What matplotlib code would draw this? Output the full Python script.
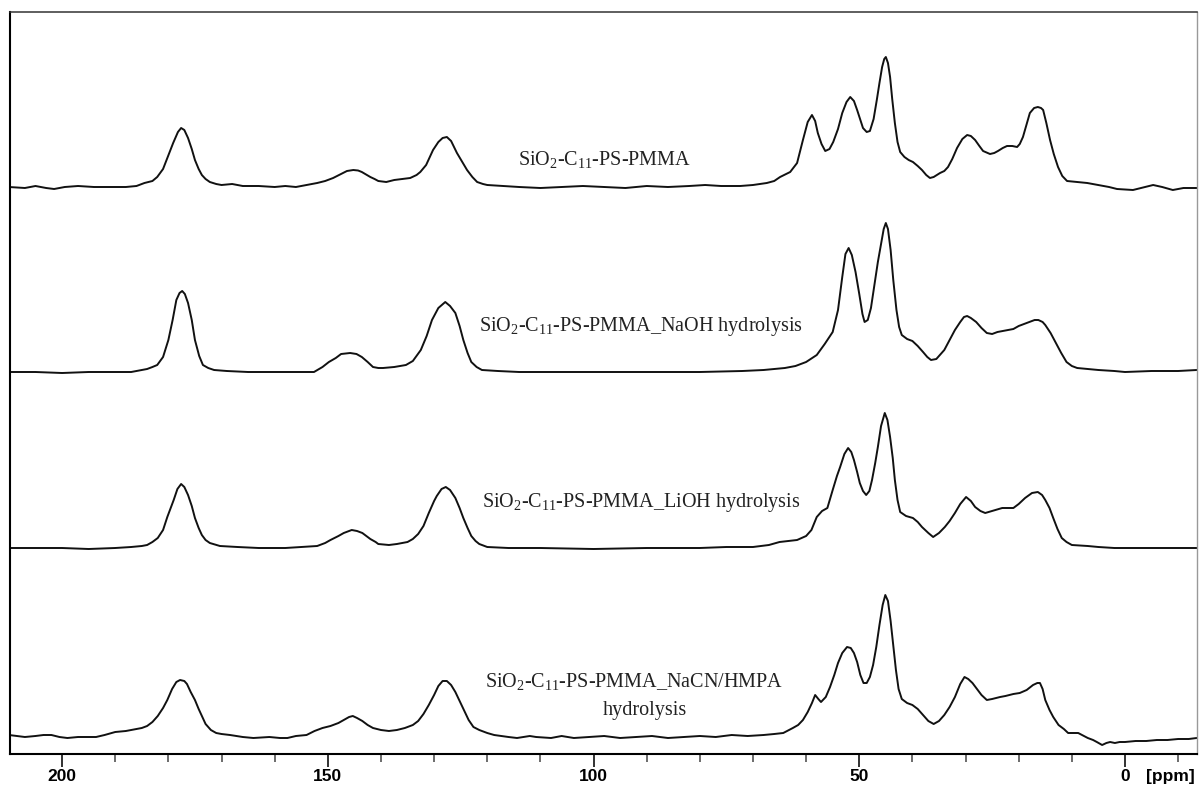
import matplotlib
matplotlib.use("Agg")
import matplotlib.pyplot as plt
from matplotlib.ticker import MultipleLocator

# ---------------- data (ppm, intensity above own baseline) ----------------
ppm_1 = [210, 207, 205, 203, 201.5, 199.5, 197, 194, 191, 188, 186, 184.5, 183, 182.1, 181, 180.2, 179.1, 178.2,
         177.6, 177, 176.3, 175.6, 175, 174.3, 173.7, 173, 172.2, 171, 170, 168, 166, 163, 160, 158, 156, 154, 152,
         150.5, 149, 147.5, 146.4, 145.2, 144.3, 143.6, 142.8, 142, 141.2, 140.5, 139, 137.5, 136, 134.5, 133.3,
         132.6, 131.5, 130.2, 129.2, 128.4, 127.6, 126.8, 125.7, 124.7, 123.8, 122.8, 121.9, 120.8, 120, 117, 114,
         110, 106, 102, 98, 94, 90, 86, 82, 79, 76, 72.4, 70, 67.4, 66, 64.9, 63, 61.7, 60.6, 59.7, 58.9, 58.3, 57.8,
         57.1, 56.4, 55.6, 54.9, 54, 53.2, 52.4, 51.7, 51, 50.4, 49.8, 49.3, 48.6, 48, 47.3, 46.7, 46.2, 45.7, 45.3,
         45, 44.6, 44.2, 43.8, 43.3, 42.8, 42.3, 41.5, 40.7, 39.9, 39, 38.2, 37.4, 36.7, 36, 34.8, 34, 33.3, 32.5,
         31.6, 30.6, 29.7, 29, 28.2, 27.4, 26.7, 25.4, 24.6, 23.9, 23, 22.2, 21.2, 20.3, 19.8, 19.2, 18.5, 17.9, 17.1,
         16.4, 15.8, 15.4, 14.8, 14.1, 13.4, 12.6, 11.8, 10.9, 9, 7.1, 5, 3, 1.5, -1.5, -3, -5.3, -7, -9, -11, -13.5]
int_1 = [0, -1, 1, -1, -2, 0, 1, 0, 0, 0, 1, 4, 6, 10, 18, 29, 44, 55,
         59, 57, 49, 38, 27, 18, 12, 8, 5, 3, 2, 3, 1, 1, 0, 1, 0, 2, 4,
         6, 9, 13, 16, 17, 16.5, 15, 12.5, 10, 8, 6, 5, 7, 8, 9, 12,
         15, 22, 37, 45, 49, 50, 46, 34, 25, 17, 10, 5, 3, 2, 1, 0,
         -1, 0, 1, 0, -1, 1, 0, 1, 2, 1, 1, 2, 4, 6, 10, 15, 24, 47, 65, 72, 66, 54,
         43, 36, 38, 45, 58, 74, 85, 90, 86, 77, 67, 59, 55, 56, 68, 87, 104, 120, 128,
         130, 124, 110, 88, 64, 45, 35, 30, 27, 25, 21, 17, 12, 9, 10, 14, 16, 20, 28,
         39, 48, 52, 51, 47, 41, 36, 33, 34, 36, 39, 41, 41, 40, 43, 50, 63, 74, 79,
         80, 79, 77, 64, 47, 33, 20, 11, 6, 5, 4, 2, 0, -2, -3, -1, 2, 0, -3, -1, -1]

ppm_2 = [210, 205, 200, 195, 190, 187, 186, 184, 183, 182.1, 181, 180, 179.2, 178.5, 177.9, 177.4, 176.9, 176.3,
         175.6, 175, 174.2, 173.5, 172.5, 171.4, 169, 165, 160, 156, 152.6, 151, 149.8, 148.5, 147.5, 145.8, 144.6,
         143.6, 142.5, 141.5, 140.5, 139.6, 137.5, 135.3, 134, 132.5, 131.4, 130.4, 129.2, 127.9, 127, 126, 125.2,
         124.5, 123.7, 123, 122, 121, 118, 114, 110, 100, 90, 80, 72, 68, 66, 64, 62, 60, 58, 56.5, 55, 54, 53.2,
         52.6, 52, 51.4, 50.7, 50, 49.4, 49, 48.4, 47.8, 47.2, 46.5, 46, 45.4, 45, 44.6, 44.1, 43.6, 43, 42.5, 42,
         41, 40, 39, 38, 37.2, 36.5, 35.5, 35, 34, 33, 32, 31, 30.3, 29.7, 29, 28, 27, 26, 25, 24, 23, 22, 21, 20,
         19, 18, 17, 16.3, 15.5, 15, 14, 13, 12, 11, 10, 9, 7, 5, 2, 0, -5, -10, -13.5]
int_2 = [0, 0, -1, 0, 0, 0, 1, 3, 5, 7, 15, 32, 52, 72, 79, 81, 78, 69,
         52, 32, 16, 7, 4, 2, 1, 0, 0, 0, 0, 5, 10, 14, 18, 19, 18,
         15, 10, 5, 4, 4, 5, 7, 11, 22, 36, 52, 64, 70, 66, 59, 46,
         32, 19, 10, 5, 2, 1, 0, 0, 0, 0, 0, 1, 2, 3, 4, 6, 10, 17, 28, 40, 62, 95,
         118, 124, 117, 100, 78, 58, 50, 52, 64, 85, 110, 125, 143, 149, 143, 122, 92, 62, 45, 37,
         33, 31, 26, 20, 15, 12, 13, 16, 22, 32, 42, 50, 55, 56, 54, 50, 44, 39, 38, 40, 41, 42, 43, 46,
         48, 50, 52, 52, 50, 47, 39, 29, 19, 10, 6, 4, 3, 2, 1, 0, 1, 1, 2]

ppm_3 = [210, 205, 200, 195, 190, 187, 185, 184, 183, 182, 181, 180.2, 179, 178.3, 177.6, 177, 176.3, 175.6, 175,
         174.3, 173.7, 173, 172.2, 170.3, 167, 163, 158, 155, 152, 150.5, 149.5, 148, 147, 145.5, 144.5, 143.5,
         142.5, 142, 141, 140.5, 138.5, 137, 135, 134, 133, 132, 131, 130, 129.5, 128.6, 127.8, 127, 126, 125.2,
         124.5, 123.7, 123, 122.2, 121.5, 120, 116, 110, 100, 90, 80, 75, 70, 67, 65, 61.7, 60, 59, 58, 57, 56, 55,
         54.2, 53.6, 52.8, 52.1, 51.5, 51, 50.4, 49.9, 49.3, 48.7, 48.1, 47.6, 47, 46.5, 45.9, 45.2, 44.7, 44.2,
         43.7, 43.3, 42.8, 42.3, 41.2, 39.9, 39, 38.2, 37, 36.1, 35, 33.9, 33, 32, 31, 29.9, 29, 28.2, 27.2, 26.3,
         25, 23.1, 22, 21, 20, 18.8, 17.5, 16.4, 15.6, 15, 14.2, 13.5, 12.7, 11.9, 11, 10, 7, 5, 2, 0, -5, -10, -13.5]
int_3 = [0, 0, 0, -1, 0, 1, 2, 3, 6, 10, 18, 31, 48, 59, 64, 61, 53, 42, 30,
         20, 13, 8, 5, 2, 1, 0, 0, 1, 2, 5, 8, 12, 15, 18, 17, 15,
         11, 9, 6, 4, 3, 4, 6, 9, 14, 22, 35, 47, 52, 59, 61, 58, 50, 40,
         30, 20, 12, 7, 4, 1, 0, 0, -1, 0, 0, 1, 1, 3, 6, 8, 12, 18, 31, 37, 40, 58,
         72, 81, 94, 100, 96, 88, 76, 65, 57, 53, 57, 68, 85, 101, 122, 135, 128, 111,
         90, 68, 48, 36, 32, 30, 26, 21, 15, 11, 15, 21, 27, 35, 44, 51, 47, 41, 37, 35,
         37, 40, 40, 40, 44, 50, 55, 56, 53, 48, 40, 30, 19, 10, 6, 3, 2, 1, 0, 0, 0, 0, 0]

ppm_4 = [210, 208.5, 207, 205, 203.5, 202, 200.5, 199, 197, 195, 193.6, 192, 190, 188, 187, 186, 185, 184, 183, 182,
         181, 180.2, 179.3, 178.5, 177.8, 177, 176.5, 175.8, 175, 174.3, 173.7, 173, 172, 171, 170, 168.4, 166, 164,
         161, 159, 157.6, 156, 154, 152.5, 151, 149.5, 148, 147, 146, 145.3, 144.5, 143.5, 142.5, 141.5, 140, 138.5,
         137, 135.5, 134, 133, 132, 131, 130, 129.2, 128.4, 127.6, 126.8, 126, 125.2, 124.3, 123.5, 122.6, 121.5,
         120, 118.7, 116, 114.4, 112, 110.8, 108, 106, 103.7, 101, 98, 95, 92, 89, 86, 83, 80, 77, 74, 71, 68, 66,
         64.3, 62.5, 61.5, 60.6, 59.7, 58.9, 58.3, 57.7, 57.2, 56.3, 55.5, 54.7, 54, 53.2, 52.3, 51.6, 51, 50.4,
         49.8, 49.2, 48.6, 48, 47.4, 46.8, 46.2, 45.6, 45.1, 44.6, 44.1, 43.6, 43.1, 42.6, 42, 41, 40, 39, 38, 37,
         36, 35, 34, 33, 32, 31, 30.2, 29.5, 28.7, 28, 27, 26, 25, 23.5, 22.5, 21, 19.8, 18.5, 17.3, 16.5, 16,
         15.5, 15, 14.2, 13.5, 12.5, 11.5, 10.7, 8.8, 7, 6, 5.3, 4.3, 3.5, 2.8, 1.9, 1, 0, -2, -4, -6, -8, -10,
         -12, -13.5]
int_4 = [2, 1, 0, 1, 2, 2, 0, -1, 0, 0, 0, 2, 5, 6, 7, 8, 9, 11, 15, 21,
         29, 37, 48, 55, 57, 56, 53, 45, 37, 28, 21, 13, 7, 4, 3, 2, 0, -1,
         0, -1, -1, 1, 2, 6, 9, 11, 14, 17, 20, 21, 19, 16, 12, 9, 7, 6,
         7, 9, 12, 16, 23, 32, 42, 51, 56, 56, 52, 45, 36, 26, 17, 10, 7,
         4, 2, 0, -1, 1, 0, -1, 1, -1, 0, 1, -1, 0, 1, -1, 0, 1, 0, 2, 1, 2, 3,
         4, 9, 12, 17, 25, 34, 42, 38, 35, 40, 50, 62, 74, 84, 90, 89, 84, 75,
         62, 54, 54, 60, 72, 90, 112, 132, 142, 136, 116, 92, 67, 48, 38, 34, 32, 28, 22, 16,
         13, 16, 22, 30, 40, 53, 60, 58, 54, 49, 42, 37, 38, 40, 41, 43, 44, 47, 52, 54, 54,
         48, 37, 27, 20, 12, 8, 4, 4, -1, -3, -5, -8, -6, -5, -6, -5, -5, -4, -4, -3, -3, -2,
         -2, -1]

labels = ["SiO$_\\mathrm{2}$-C$_\\mathrm{11}$-PS-PMMA",
          "SiO$_\\mathrm{2}$-C$_\\mathrm{11}$-PS-PMMA_NaOH hydrolysis",
          "SiO$_\\mathrm{2}$-C$_\\mathrm{11}$-PS-PMMA_LiOH hydrolysis",
          "SiO$_\\mathrm{2}$-C$_\\mathrm{11}$-PS-PMMA_NaCN/HMPA"]
label4_line2 = "hydrolysis"
major_ticks = [200, 150, 100, 50, 0]

# ---------------- layout ----------------
offsets = [567, 382, 206, 17]
label_pos = [(98.0, 594), (91.1, 427), (91.1, 251), (92.4, 72)]
label4_line2_pos = (90.3, 44)

plt.rcParams['mathtext.fontset'] = 'custom'
plt.rcParams['mathtext.rm'] = 'Liberation Serif'
plt.rcParams['mathtext.it'] = 'Liberation Serif'

fig = plt.figure(figsize=(11.99, 7.86), dpi=100)
ax = fig.add_axes([10 / 1199, 32 / 786, 1187 / 1199, 742 / 786])

series = [(ppm_1, int_1), (ppm_2, int_2), (ppm_3, int_3), (ppm_4, int_4)]
for (p, v), off in zip(series, offsets):
    ax.plot(p, [off + val for val in v], color='#111111', lw=1.4, solid_joinstyle='round')

for txt, (x, y) in zip(labels, label_pos):
    ax.text(x, y, txt, ha='center', va='center', fontsize=14.5,
            family='Liberation Serif', color='#222222')
ax.text(label4_line2_pos[0], label4_line2_pos[1], label4_line2, ha='center', va='center',
        fontsize=14.5, family='Liberation Serif', color='#222222')

ax.set_xlim(209.8, -13.55)
ax.set_ylim(0, 742)
ax.set_yticks([])
ax.set_xticks(major_ticks)
ax.xaxis.set_minor_locator(MultipleLocator(10))
ax.tick_params(axis='x', which='major', length=9, width=1.3, direction='out', pad=2, color='#222222')
ax.tick_params(axis='x', which='minor', length=6, width=1.1, direction='out', color='#444444')
for lab in ax.get_xticklabels():
    lab.set_fontfamily('Liberation Sans')
    lab.set_fontweight('bold')
    lab.set_fontsize(12.5)

ax.spines['left'].set_linewidth(1.5)
ax.spines['bottom'].set_linewidth(1.5)
ax.spines['top'].set_linewidth(1.1)
ax.spines['top'].set_color('#333333')
ax.spines['right'].set_linewidth(1.0)
ax.spines['right'].set_color('#999999')

fig.text(1170 / 1199, 10 / 786, "[ppm]", ha='center', va='center', fontsize=12.5,
         fontweight='bold', family='Liberation Sans')

fig.savefig("out.png", dpi=100)
